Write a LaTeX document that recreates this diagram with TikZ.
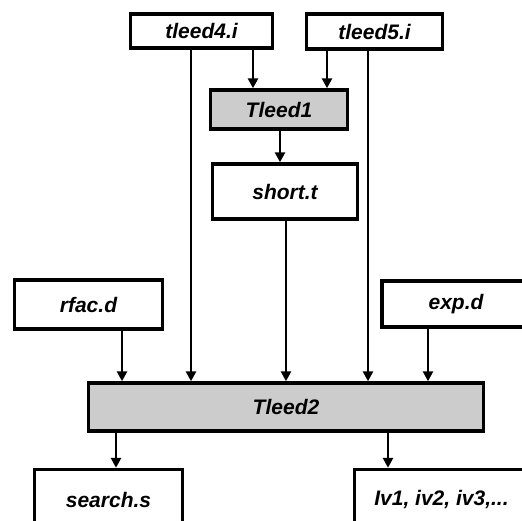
\documentclass[tikz,border=0pt]{standalone}
\usepackage{fontspec}
\setmainfont{Liberation Sans}
\usetikzlibrary{arrows.meta}
\definecolor{procgray}{RGB}{204,204,204}
\tikzset{
  box/.style={draw=black, line width=3.4pt, fill=white, inner sep=0pt,
    font=\fontsize{21}{25}\selectfont\bfseries\itshape},
  proc/.style={box, fill=procgray},
  arr/.style={line width=2.6pt, -{Triangle[length=10pt,width=10pt]}}
}
\begin{document}
\begin{tikzpicture}[x=1pt, y=-1pt]
\useasboundingbox (0,0) rectangle (522,520);
\clip (0,0) rectangle (522,520);

% input files and first program
\node[box, minimum width=142pt, minimum height=34pt] (t4) at (201.5,31) {tleed4.i};
\node[box, minimum width=136pt, minimum height=35pt] (t5) at (374.5,31.5) {tleed5.i};
\node[proc, minimum width=137pt, minimum height=39pt] (tl1) at (279,109.5) {Tleed1};
\node[box, minimum width=145pt, minimum height=55pt] (sh) at (285,191.5) {short.t};

% side inputs
\node[box, minimum width=148pt, minimum height=49pt] (rf) at (88.5,304.5) {rfac.d};
\node[box, minimum width=148pt, minimum height=46pt] (ex) at (456,304) {exp.d};

% second program
\node[proc, minimum width=395pt, minimum height=48pt] (tl2) at (286,407) {Tleed2};

% outputs
\node[box, minimum width=148pt, minimum height=60pt] (se) at (108.5,499.5) {search.s};
\node[box, minimum width=174pt, minimum height=60pt] (iv) at (441.5,499.5) {Iv1, iv2, iv3,...};

% x positions of the connectors
\coordinate (xa) at (253,0);
\coordinate (xb) at (327,0);
\coordinate (xc) at (280,0);
\coordinate (xd) at (191,0);
\coordinate (xe) at (368,0);
\coordinate (xf) at (286,0);
\coordinate (xg) at (122,0);
\coordinate (xh) at (428,0);
\coordinate (xi) at (116,0);
\coordinate (xj) at (388,0);

\draw[arr] (t4.south -| xa) -- (tl1.north -| xa);
\draw[arr] (t5.south -| xb) -- (tl1.north -| xb);
\draw[arr] (tl1.south -| xc) -- (sh.north -| xc);
\draw[arr] (t4.south -| xd) -- (tl2.north -| xd);
\draw[arr] (t5.south -| xe) -- (tl2.north -| xe);
\draw[arr] (sh.south -| xf) -- (tl2.north -| xf);
\draw[arr] (rf.south -| xg) -- (tl2.north -| xg);
\draw[arr] (ex.south -| xh) -- (tl2.north -| xh);
\draw[arr] (tl2.south -| xi) -- (se.north -| xi);
\draw[arr] (tl2.south -| xj) -- (iv.north -| xj);
\end{tikzpicture}
\end{document}
